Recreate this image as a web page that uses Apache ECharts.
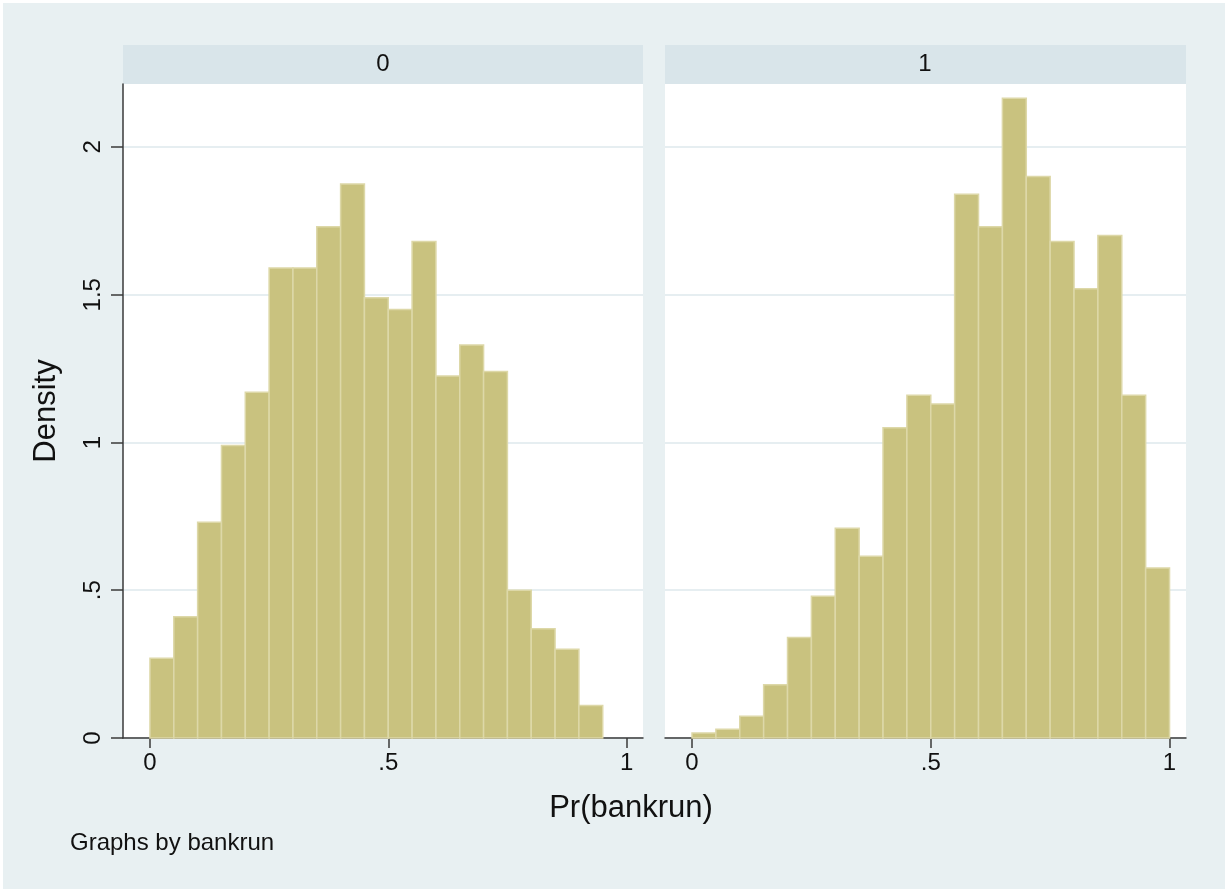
<!DOCTYPE html>
<html>
<head>
<meta charset="utf-8">
<script src="https://cdn.jsdelivr.net/npm/echarts@6/dist/echarts.min.js"></script>
<style>
  html, body { margin: 0; padding: 0; background: #ffffff; }
  #myChart { width: 1229px; height: 893px; }
</style>
</head>
<body>
<div id="myChart"></div>
<script>
// histogram of Pr(bankrun), one panel per bankrun group
var panelNames = ['0', '1'];
var binWidth = 0.05;
var density0 = [0.27, 0.41, 0.73, 0.99, 1.17, 1.59, 1.59, 1.73, 1.875, 1.49,
                1.45, 1.68, 1.225, 1.33, 1.24, 0.50, 0.37, 0.30, 0.11];
var density1 = [0.017, 0.03, 0.074, 0.18, 0.34, 0.48, 0.71, 0.615, 1.05, 1.16,
                1.13, 1.84, 1.73, 2.165, 1.90, 1.68, 1.52, 1.70, 1.16, 0.575];
var xTicks = [0, 0.5, 1];
var yTicks = [0, 0.5, 1, 1.5, 2];

var font = 'Liberation Sans, Arial, sans-serif';

function toBins(dens) {
    return dens.map(function (d, i) {
        return [i * binWidth, (i + 1) * binWidth, d];
    });
}

function stataNum(v) {
    // stata style: .5 instead of 0.5
    var s = String(v);
    return s.indexOf('0.') === 0 ? s.slice(1) : s;
}

function renderBar(params, api) {
    var p0 = api.coord([api.value(0), api.value(2)]);
    var p1 = api.coord([api.value(1), 0]);
    return {
        type: 'rect',
        shape: { x: p0[0], y: p0[1], width: p1[0] - p0[0], height: p1[1] - p0[1] },
        style: { fill: '#c9c27f', stroke: '#ddd8a8', lineWidth: 1.5 }
    };
}

function xAxisOpt(idx) {
    return {
        type: 'value', gridIndex: idx, min: -0.0566, max: 1.0345,
        axisLine: { show: true, onZero: false, lineStyle: { color: '#3a3a3a', width: 1.5 } },
        axisTick: { show: true, customValues: xTicks, length: 10, lineStyle: { color: '#3a3a3a', width: 1.5 } },
        axisLabel: { show: true, customValues: xTicks, formatter: stataNum, margin: 13,
                     fontSize: 24, color: '#111', fontFamily: font },
        splitLine: { show: false }
    };
}

function yAxisOpt(idx, showAxis) {
    return {
        type: 'value', gridIndex: idx, min: 0, max: 2.213,
        axisLine: { show: showAxis, onZero: false, lineStyle: { color: '#3a3a3a', width: 1.5 } },
        axisTick: { show: showAxis, customValues: yTicks, length: 12, lineStyle: { color: '#3a3a3a', width: 1.5 } },
        axisLabel: { show: showAxis, customValues: yTicks, formatter: stataNum, rotate: 90, margin: 18,
                     fontSize: 24, color: '#111', fontFamily: font },
        splitLine: { show: true, lineStyle: { color: '#e6eef1', width: 2 } }
    };
}

var myChart = echarts.init(document.getElementById('myChart'));
myChart.setOption({
    animation: false,
    backgroundColor: '#ffffff',
    graphic: [
        { type: 'rect', z: -10, shape: { x: 3, y: 3, width: 1222, height: 886 }, style: { fill: '#e8f0f2' } },
        { type: 'rect', shape: { x: 123, y: 45, width: 520, height: 39 }, style: { fill: '#d9e5ea' } },
        { type: 'rect', shape: { x: 665, y: 45, width: 521, height: 39 }, style: { fill: '#d9e5ea' } },
        { type: 'text', x: 383, y: 64, style: { text: panelNames[0], font: '24px ' + font, fill: '#111', align: 'center', verticalAlign: 'middle' } },
        { type: 'text', x: 925, y: 64, style: { text: panelNames[1], font: '24px ' + font, fill: '#111', align: 'center', verticalAlign: 'middle' } },
        { type: 'text', x: 46, y: 411, rotation: Math.PI / 2, style: { text: 'Density', font: '31px ' + font, fill: '#111', align: 'center', verticalAlign: 'middle' } },
        { type: 'text', x: 631, y: 808, style: { text: 'Pr(bankrun)', font: '31px ' + font, fill: '#111', align: 'center', verticalAlign: 'middle' } },
        { type: 'text', x: 70, y: 843, style: { text: 'Graphs by bankrun', font: '24px ' + font, fill: '#111', align: 'left', verticalAlign: 'middle' } }
    ],
    grid: [
        { left: 123, top: 84, width: 520, height: 654, show: true, backgroundColor: '#ffffff', borderWidth: 0 },
        { left: 665, top: 84, width: 521, height: 654, show: true, backgroundColor: '#ffffff', borderWidth: 0 }
    ],
    xAxis: [xAxisOpt(0), xAxisOpt(1)],
    yAxis: [yAxisOpt(0, true), yAxisOpt(1, false)],
    series: [
        { type: 'custom', name: panelNames[0], xAxisIndex: 0, yAxisIndex: 0, renderItem: renderBar,
          encode: { x: [0, 1], y: 2 }, data: toBins(density0) },
        { type: 'custom', name: panelNames[1], xAxisIndex: 1, yAxisIndex: 1, renderItem: renderBar,
          encode: { x: [0, 1], y: 2 }, data: toBins(density1) }
    ]
});
</script>
</body>
</html>
